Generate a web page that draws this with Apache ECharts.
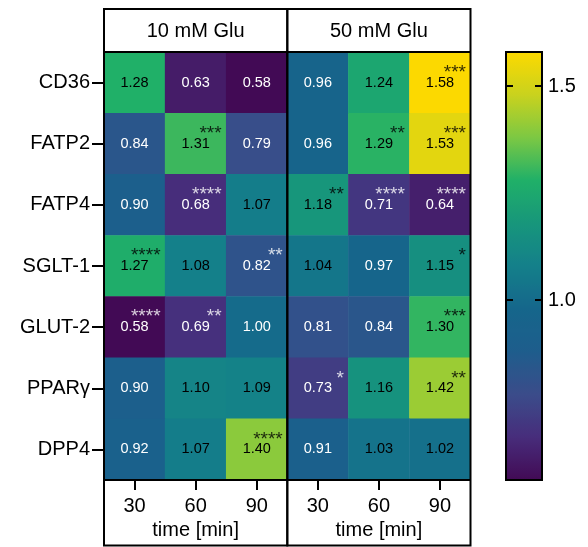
<!DOCTYPE html>
<html>
<head>
<meta charset="utf-8">
<script src="https://cdn.jsdelivr.net/npm/echarts@6/dist/echarts.min.js"></script>
<style>
  html, body { margin: 0; padding: 0; background: #fff; }
  #chart { width: 588px; height: 547px; }
</style>
</head>
<body>
<div id="chart"></div>
<script>
// data ---------------------------------------------------------------
var genes = ['CD36', 'FATP2', 'FATP4', 'SGLT-1', 'GLUT-2', 'PPARγ', 'DPP4'];
var times = ['30', '60', '90'];

var glu10 = [
    [1.28, 0.63, 0.58],
    [0.84, 1.31, 0.79],
    [0.90, 0.68, 1.07],
    [1.27, 1.08, 0.82],
    [0.58, 0.69, 1.00],
    [0.90, 1.10, 1.09],
    [0.92, 1.07, 1.40]
];
var stars10 = [
    ['', '', ''],
    ['', '***', ''],
    ['', '****', ''],
    ['****', '', '**'],
    ['****', '**', ''],
    ['', '', ''],
    ['', '', '****']
];
var glu50 = [
    [0.96, 1.24, 1.58],
    [0.96, 1.29, 1.53],
    [1.18, 0.71, 0.64],
    [1.04, 0.97, 1.15],
    [0.81, 0.84, 1.30],
    [0.73, 1.16, 1.42],
    [0.91, 1.03, 1.02]
];
var stars50 = [
    ['', '', '***'],
    ['', '**', '***'],
    ['**', '****', '****'],
    ['', '', '*'],
    ['', '', '***'],
    ['*', '', '**'],
    ['', '', '']
];
var barTicks = [1.0, 1.5];
var scaleMin = 0.58, scaleMax = 1.58;

// colours close to the figure's viridis-like scale
var palette = ['#420a55', '#472d7b', '#3b4c8a', '#1e5d8c', '#15668b', '#14808a',
               '#17967b', '#20b068', '#7cc843', '#c9d21e', '#fcd900'];

var FONT = 'Liberation Sans, Arial, Helvetica, sans-serif';

function textColor(v) { return v > 1.01 ? '#000' : '#fff'; }

function cells(vals) {
    var out = [];
    vals.forEach(function (row, r) {
        row.forEach(function (v, c) {
            out.push({ value: [c, r, v], label: { color: textColor(v) } });
        });
    });
    return out;
}

function starCells(vals, stars) {
    var out = [];
    stars.forEach(function (row, r) {
        row.forEach(function (s, c) {
            if (s) out.push({ name: s, value: [c, r], label: { color: textColor(vals[r][c]) } });
        });
    });
    return out;
}

function xAxisFor(i) {
    return {
        type: 'category', gridIndex: i, data: times, position: 'bottom',
        axisLine: { show: false },
        axisTick: { show: true, alignWithLabel: true, length: 10, lineStyle: { color: '#000', width: 2 } },
        axisLabel: { color: '#000', fontSize: 20, fontFamily: FONT, margin: 16 },
        splitLine: { show: false },
        name: 'time [min]', nameLocation: 'middle', nameGap: 40,
        nameTextStyle: { color: '#000', fontSize: 20, fontFamily: FONT }
    };
}

function yAxisFor(i, labels) {
    return {
        type: 'category', gridIndex: i, data: genes, inverse: true,
        axisLine: { show: false },
        axisTick: { show: labels, alignWithLabel: true, length: 12, lineStyle: { color: '#000', width: 2 } },
        axisLabel: { show: labels, color: '#000', fontSize: 20, fontFamily: FONT, margin: 14 },
        splitLine: { show: false }
    };
}

function heat(i, vals) {
    return {
        type: 'heatmap', xAxisIndex: i, yAxisIndex: i, data: cells(vals),
        label: {
            show: true, fontSize: 14.5, fontFamily: FONT,
            formatter: function (p) { return p.value[2].toFixed(2); }
        },
        emphasis: { disabled: true }
    };
}

function starSeries(i, vals, stars) {
    return {
        type: 'scatter', xAxisIndex: i, yAxisIndex: i, symbolSize: 0,
        data: starCells(vals, stars), silent: true,
        label: {
            show: true, position: 'inside', formatter: '{b}', align: 'right',
            offset: [26, -10], fontSize: 19, fontFamily: FONT
        },
        z: 5
    };
}

var myChart = echarts.init(document.getElementById('chart'), null, { renderer: 'canvas' });

var option = {
    animation: false,
    backgroundColor: '#fff',
    grid: [
        { left: 104, top: 52, width: 183.3, height: 428 },
        { left: 287.3, top: 52, width: 183.2, height: 428 },
        { left: 506, top: 52, width: 36, height: 428 }
    ],
    xAxis: [
        xAxisFor(0),
        xAxisFor(1),
        { type: 'value', gridIndex: 2, show: false }
    ],
    yAxis: [
        yAxisFor(0, true),
        yAxisFor(1, false),
        {
            type: 'value', gridIndex: 2, min: scaleMin, max: scaleMax, position: 'left', z: 20,
            axisLine: { show: false },
            axisTick: { show: true, inside: true, length: 7, customValues: barTicks, lineStyle: { color: '#000', width: 2 } },
            axisLabel: { show: false },
            splitLine: { show: false }
        },
        {
            type: 'value', gridIndex: 2, min: scaleMin, max: scaleMax, position: 'right', z: 20,
            axisLine: { show: false },
            axisTick: { show: true, inside: true, length: 7, customValues: barTicks, lineStyle: { color: '#000', width: 2 } },
            axisLabel: {
                show: true, customValues: barTicks, color: '#000', fontSize: 20, fontFamily: FONT, margin: 6,
                formatter: function (v) { return v.toFixed(1); }
            },
            splitLine: { show: false }
        }
    ],
    visualMap: {
        type: 'continuous', min: scaleMin, max: scaleMax, seriesIndex: [0, 1],
        left: 506, top: 52, itemWidth: 36, itemHeight: 428, padding: 0, z: 4,
        calculable: false, showLabel: false, text: null, hoverLink: false,
        inRange: { color: palette }
    },
    series: [
        heat(0, glu10),
        heat(1, glu50),
        starSeries(0, glu10, stars10),
        starSeries(1, glu50, stars50)
    ],
    graphic: [
        { type: 'rect', z: 100, shape: { x: 104, y: 9, width: 183.3, height: 536.5 }, style: { fill: 'none', stroke: '#000', lineWidth: 2 } },
        { type: 'rect', z: 100, shape: { x: 287.3, y: 9, width: 183.2, height: 536.5 }, style: { fill: 'none', stroke: '#000', lineWidth: 2 } },
        { type: 'line', z: 100, shape: { x1: 104, y1: 52, x2: 470.5, y2: 52 }, style: { stroke: '#000', lineWidth: 2 } },
        { type: 'line', z: 100, shape: { x1: 104, y1: 480, x2: 470.5, y2: 480 }, style: { stroke: '#000', lineWidth: 2 } },
        { type: 'rect', z: 100, shape: { x: 506, y: 52, width: 36, height: 428 }, style: { fill: 'none', stroke: '#000', lineWidth: 2 } },
        { type: 'text', z: 100, x: 195.6, y: 31, style: { text: '10 mM Glu', fill: '#000', font: '20px ' + FONT, align: 'center', verticalAlign: 'middle' } },
        { type: 'text', z: 100, x: 378.9, y: 31, style: { text: '50 mM Glu', fill: '#000', font: '20px ' + FONT, align: 'center', verticalAlign: 'middle' } }
    ]
};

myChart.setOption(option);
</script>
</body>
</html>
